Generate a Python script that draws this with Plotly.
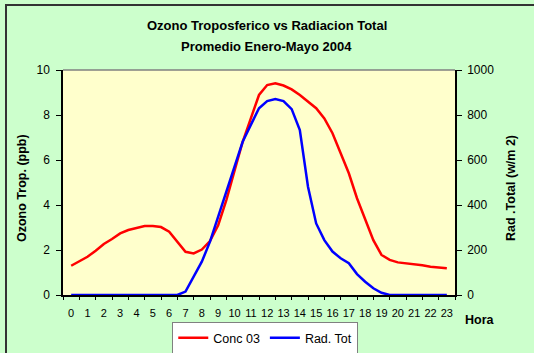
import plotly.graph_objects as go

# Half-hourly averages, January-May 2004
hora = [0, 0.5, 1, 1.5, 2, 2.5, 3, 3.5, 4, 4.5, 5, 5.5, 6, 6.5, 7, 7.5,
        8, 8.5, 9, 9.5, 10, 10.5, 11, 11.5, 12, 12.5, 13, 13.5, 14, 14.5, 15, 15.5,
        16, 16.5, 17, 17.5, 18, 18.5, 19, 19.5, 20, 20.5, 21, 21.5, 22, 22.5, 23]

conc_o3 = [1.30, 1.51, 1.70, 1.97, 2.27, 2.49, 2.74, 2.89, 2.98, 3.07, 3.07, 3.02, 2.81, 2.37, 1.92, 1.85,
           2.02, 2.40, 3.10, 4.22, 5.56, 6.81, 7.85, 8.89, 9.33, 9.41, 9.31, 9.14, 8.89, 8.59, 8.30, 7.85,
           7.19, 6.30, 5.41, 4.30, 3.41, 2.44, 1.78, 1.56, 1.45, 1.41, 1.38, 1.32, 1.26, 1.22, 1.19]

rad_tot = [0, 0, 0, 0, 0, 0, 0, 0, 0, 0, 0, 0, 0, 0, 15, 81,
           148, 237, 348, 467, 570, 681, 756, 830, 862, 871, 862, 826, 733, 481, 318, 244,
           193, 163, 141, 93, 59, 30, 10, 0, 0, 0, 0, 0, 0, 0, 0]

hour_labels = [str(h) for h in range(24)]
hour_ticks = list(range(24))
hour_bounds = [b - 0.5 for b in range(25)]
ozono_ticks = [0, 2, 4, 6, 8, 10]
rad_ticks = [0, 200, 400, 600, 800, 1000]

FONT = "Liberation Sans, Arial, sans-serif"

fig = go.Figure()
fig.add_trace(go.Scatter(x=hora, y=conc_o3, name="Conc 03", mode="lines",
                         line=dict(color="#FF0000", width=2.5), xaxis="x", yaxis="y"))
fig.add_trace(go.Scatter(x=hora, y=rad_tot, name="Rad. Tot", mode="lines",
                         line=dict(color="#0000FF", width=2.5), xaxis="x", yaxis="y2"))

axis_common = dict(showgrid=False, zeroline=False)

fig.update_layout(
    width=534, height=353,
    margin=dict(l=63, r=79, t=70, b=58, autoexpand=False),
    paper_bgcolor="#CCFFCC",
    plot_bgcolor="#FFFFCC",
    font=dict(family=FONT, size=11, color="#000000"),
    showlegend=True,
    legend=dict(orientation="h", x=0.516, xanchor="center", y=-0.12, yanchor="top",
                bgcolor="#FFFFFF", bordercolor="#808080", borderwidth=1,
                font=dict(size=12.5, family=FONT), itemwidth=30, tracegroupgap=0),
    xaxis=dict(range=[-0.5, 23.5], tickmode="array", tickvals=hour_ticks, ticktext=hour_labels,
               ticks="outside", ticklen=7, tickcolor="rgba(0,0,0,0)",
               showline=True, linecolor="#000000", linewidth=1.5,
               tickfont=dict(size=11),
               minor=dict(tickmode="array", tickvals=hour_bounds, ticks="outside",
                          ticklen=3, tickcolor="#000000", tickwidth=1),
               **axis_common),
    xaxis3=dict(overlaying="x", anchor="y", range=[-0.5, 23.5], tickmode="array",
                tickvals=hour_bounds, ticks="inside", ticklen=3, tickcolor="#000000",
                showticklabels=False, showline=False, **axis_common),
    yaxis=dict(range=[0, 10], tickmode="array", tickvals=ozono_ticks,
               ticks="outside", ticklen=5, tickcolor="#000000",
               showline=True, linecolor="#000000", linewidth=1.5,
               tickfont=dict(size=12), ticklabelstandoff=4, **axis_common),
    yaxis3=dict(overlaying="y", anchor="x", side="left", range=[0, 10], tickmode="array",
                tickvals=ozono_ticks, ticks="inside", ticklen=5, tickcolor="#000000",
                showticklabels=False, showline=False, **axis_common),
    yaxis2=dict(overlaying="y", anchor="x", side="right", range=[0, 1000], tickmode="array",
                tickvals=rad_ticks, ticks="outside", ticklen=5, tickcolor="#000000",
                showline=True, linecolor="#000000", linewidth=1.5,
                tickfont=dict(size=12), ticklabelstandoff=3, **axis_common),
    yaxis4=dict(overlaying="y", anchor="x", side="right", range=[0, 10], tickmode="array",
                tickvals=ozono_ticks, ticks="inside", ticklen=5, tickcolor="#000000",
                showticklabels=False, showline=False, **axis_common),
)

# Grey top edge of the plot area and dark frame round the chart
fig.add_shape(type="line", xref="paper", yref="paper", x0=0, x1=1, y0=1, y1=1,
              line=dict(color="#808080", width=1.5))
fig.add_shape(type="rect", xref="paper", yref="paper", x0=-0.1454, x1=1.25, y0=-0.3, y1=1.289,
              line=dict(color="#333333", width=2), fillcolor="rgba(0,0,0,0)", layer="below")

title_font = dict(family=FONT, size=13, color="#000000")
axis_title_font = dict(family=FONT, size=12.5, color="#000000")
fig.add_annotation(text="<b>Ozono Troposferico vs Radiacion Total</b>", xref="paper", yref="paper",
                   x=0.520, y=(295 - 25) / 225, xanchor="center", yanchor="middle",
                   showarrow=False, font=title_font)
fig.add_annotation(text="<b>Promedio Enero-Mayo 2004</b>", xref="paper", yref="paper",
                   x=0.520, y=(295 - 46) / 225, xanchor="center", yanchor="middle",
                   showarrow=False, font=title_font)
fig.add_annotation(text="<b>Ozono Trop. (ppb)</b>", xref="paper", yref="paper",
                   x=(22 - 63) / 392, y=(295 - 188) / 225, xanchor="center", yanchor="middle",
                   textangle=-90, showarrow=False, font=axis_title_font)
fig.add_annotation(text="<b>Rad .Total (w/m 2)</b>", xref="paper", yref="paper",
                   x=(511 - 63) / 392, y=(295 - 188) / 225, xanchor="center", yanchor="middle",
                   textangle=-90, showarrow=False, font=axis_title_font)
fig.add_annotation(text="<b>Hora</b>", xref="paper", yref="paper",
                   x=(480 - 63) / 392, y=(295 - 320) / 225, xanchor="center", yanchor="middle",
                   showarrow=False, font=axis_title_font)

fig.write_html("out.html")
